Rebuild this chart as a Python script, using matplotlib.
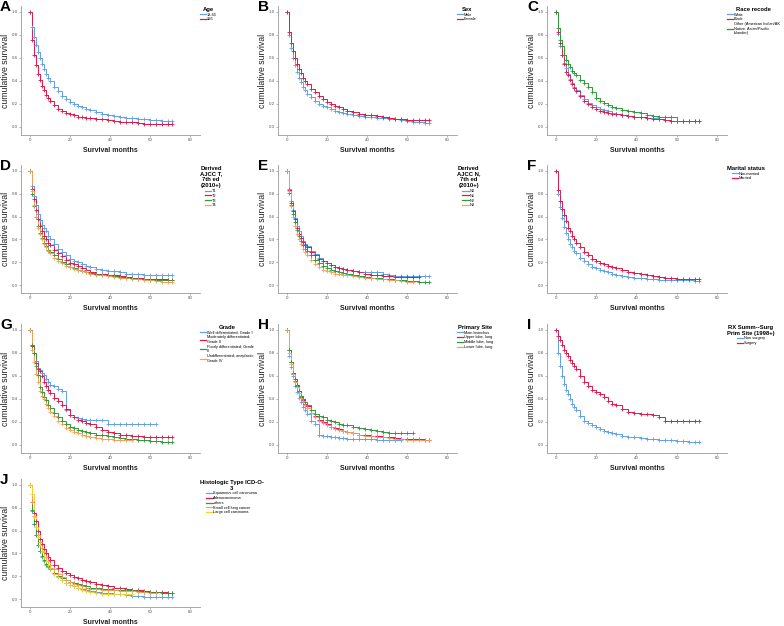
import matplotlib

matplotlib.use("Agg")
import matplotlib.pyplot as plt
from matplotlib.lines import Line2D

# --- data: Kaplan-Meier estimates (months -> survival) ---
MONTHS = [0, 1, 2, 3, 4, 5, 6, 7, 8, 9, 10,
          12, 14, 16, 18, 20, 22, 24, 26, 28, 30,
          33, 36, 39, 42, 45, 48, 51, 54, 57, 60, 63, 66, 69, 71]

# A  Age
AGE_LABELS = ["18-65", "≥66"]
AGE_18_65 = [1.00, 0.87, 0.78, 0.71, 0.65, 0.60, 0.55, 0.50, 0.46, 0.43, 0.40,
             0.35, 0.31, 0.27, 0.24, 0.22, 0.20, 0.185, 0.17, 0.155, 0.145,
             0.13, 0.115, 0.105, 0.095, 0.09, 0.08, 0.075, 0.07, 0.065, 0.06, 0.058, 0.055, 0.055, 0.055]
AGE_66 = [1.00, 0.76, 0.63, 0.54, 0.46, 0.41, 0.36, 0.32, 0.28, 0.25, 0.23,
          0.19, 0.16, 0.14, 0.12, 0.11, 0.10, 0.09, 0.085, 0.08, 0.075,
          0.07, 0.065, 0.06, 0.05, 0.045, 0.04, 0.04, 0.035, 0.03, 0.03, 0.03, 0.03, 0.03, 0.03]

# B  Sex
SEX_LABELS = ["Male", "Female"]
SEX_MALE = [1.00, 0.80, 0.69, 0.60, 0.54, 0.48, 0.43, 0.39, 0.35, 0.32, 0.29,
            0.26, 0.23, 0.20, 0.185, 0.17, 0.155, 0.14, 0.13, 0.12, 0.115,
            0.105, 0.095, 0.09, 0.085, 0.08, 0.075, 0.07, 0.065, 0.06, 0.05, 0.045, 0.04, 0.035, 0.035]
SEX_FEMALE = [1.00, 0.83, 0.73, 0.66, 0.60, 0.55, 0.50, 0.47, 0.43, 0.40, 0.37,
              0.33, 0.30, 0.27, 0.245, 0.22, 0.20, 0.185, 0.17, 0.155, 0.14,
              0.13, 0.115, 0.105, 0.10, 0.095, 0.09, 0.08, 0.07, 0.065, 0.06, 0.06, 0.06, 0.06, 0.06]

# C  Race recode
RACE_LABELS = ["White", "Black", "Other (American Indian/AK\nNative, Asian/Pacific\nIslander)"]
RACE_WHITE = [1.00, 0.81, 0.70, 0.63, 0.56, 0.51, 0.46, 0.42, 0.38, 0.35, 0.32,
              0.28, 0.24, 0.21, 0.19, 0.17, 0.16, 0.145, 0.135, 0.125, 0.115,
              0.105, 0.095, 0.09, 0.085, 0.08, 0.075, 0.065, 0.06, 0.055, 0.055, 0.05, 0.05, 0.05, 0.05]
RACE_BLACK = [1.00, 0.83, 0.73, 0.63, 0.55, 0.48, 0.45, 0.41, 0.37, 0.34, 0.31,
              0.27, 0.23, 0.20, 0.175, 0.155, 0.14, 0.13, 0.12, 0.115, 0.11,
              0.10, 0.095, 0.09, 0.085, 0.08, 0.07, 0.065, 0.06, 0.055, 0.05, 0.05, 0.05, 0.05, 0.05]
RACE_OTHER = [1.00, 0.86, 0.76, 0.70, 0.63, 0.58, 0.55, 0.52, 0.49, 0.47, 0.45,
              0.41, 0.38, 0.35, 0.30, 0.25, 0.23, 0.21, 0.19, 0.175, 0.165,
              0.15, 0.14, 0.13, 0.12, 0.107, 0.095, 0.085, 0.085, 0.085, 0.05]

# D  Derived AJCC T
T_LABELS = ["T1", "T2", "T3", "T4"]
T_T1 = [1.00, 0.87, 0.78, 0.70, 0.62, 0.57, 0.53, 0.50, 0.47, 0.43, 0.40,
        0.36, 0.32, 0.29, 0.26, 0.23, 0.21, 0.20, 0.18, 0.17, 0.16,
        0.14, 0.13, 0.12, 0.12, 0.11, 0.10, 0.10, 0.095, 0.09, 0.09, 0.09, 0.09, 0.09, 0.09]
T_T2 = [1.00, 0.84, 0.75, 0.66, 0.58, 0.52, 0.47, 0.43, 0.40, 0.37, 0.35,
        0.31, 0.28, 0.25, 0.22, 0.195, 0.18, 0.165, 0.15, 0.13, 0.115,
        0.10, 0.095, 0.09, 0.085, 0.075, 0.07, 0.065, 0.06, 0.055, 0.055, 0.05, 0.05, 0.045, 0.045]
T_T3 = [1.00, 0.80, 0.69, 0.60, 0.52, 0.46, 0.41, 0.37, 0.34, 0.31, 0.29,
        0.26, 0.23, 0.20, 0.18, 0.16, 0.145, 0.135, 0.125, 0.115, 0.105,
        0.095, 0.09, 0.085, 0.08, 0.07, 0.065, 0.06, 0.055, 0.05, 0.045, 0.045, 0.04, 0.04, 0.04]
T_T4 = [1.00, 0.82, 0.70, 0.60, 0.50, 0.45, 0.40, 0.36, 0.33, 0.30, 0.28,
        0.24, 0.21, 0.19, 0.17, 0.155, 0.14, 0.13, 0.12, 0.11, 0.10,
        0.09, 0.085, 0.075, 0.07, 0.065, 0.06, 0.055, 0.05, 0.045, 0.04, 0.035, 0.03, 0.025, 0.025]

# E  Derived AJCC N
N_LABELS = ["N0", "N1", "N2", "N3"]
N_N0 = [1.00, 0.84, 0.74, 0.66, 0.59, 0.52, 0.47, 0.43, 0.39, 0.36, 0.34,
        0.30, 0.27, 0.24, 0.21, 0.19, 0.175, 0.16, 0.15, 0.14, 0.13,
        0.12, 0.115, 0.115, 0.115, 0.11, 0.10, 0.09, 0.08, 0.075, 0.075, 0.075, 0.075, 0.075, 0.075]
N_N1 = [1.00, 0.83, 0.72, 0.65, 0.58, 0.50, 0.45, 0.41, 0.38, 0.35, 0.33,
        0.29, 0.26, 0.23, 0.21, 0.19, 0.175, 0.16, 0.15, 0.14, 0.13,
        0.12, 0.11, 0.10, 0.09, 0.085, 0.08, 0.075, 0.07, 0.07, 0.07, 0.07, 0.07]
N_N2 = [1.00, 0.81, 0.70, 0.62, 0.55, 0.48, 0.43, 0.39, 0.35, 0.32, 0.30,
        0.26, 0.22, 0.19, 0.17, 0.15, 0.135, 0.125, 0.115, 0.105, 0.095,
        0.085, 0.075, 0.07, 0.065, 0.06, 0.055, 0.05, 0.045, 0.04, 0.035, 0.035, 0.03, 0.03, 0.03]
N_N3 = [1.00, 0.82, 0.69, 0.60, 0.52, 0.45, 0.40, 0.36, 0.32, 0.29, 0.26,
        0.22, 0.18, 0.155, 0.135, 0.12, 0.11, 0.10, 0.095, 0.09, 0.085,
        0.075, 0.07, 0.065, 0.06, 0.055, 0.05, 0.045, 0.04, 0.035, 0.03, 0.03]

# F  Marital status
MARITAL_LABELS = ["Non-married", "Married"]
MARITAL_NON = [1.00, 0.80, 0.68, 0.59, 0.51, 0.46, 0.40, 0.36, 0.33, 0.30, 0.28,
               0.24, 0.21, 0.18, 0.16, 0.145, 0.13, 0.12, 0.11, 0.10, 0.09,
               0.08, 0.07, 0.065, 0.06, 0.055, 0.05, 0.045, 0.045, 0.04, 0.04, 0.04, 0.04, 0.035, 0.035]
MARITAL_MARRIED = [1.00, 0.83, 0.74, 0.67, 0.61, 0.56, 0.50, 0.47, 0.43, 0.40, 0.37,
                   0.33, 0.29, 0.26, 0.23, 0.21, 0.195, 0.18, 0.165, 0.155, 0.145,
                   0.13, 0.115, 0.105, 0.095, 0.085, 0.08, 0.07, 0.065, 0.06, 0.055, 0.05, 0.05, 0.05, 0.05]

# G  Grade
GRADE_LABELS = ["Well differentiated; Grade I", "Moderately differentiated;\nGrade II",
                "Poorly differentiated; Grade\nIII", "Undifferentiated; anaplastic;\nGrade IV"]
GRADE_I = [1.00, 0.87, 0.80, 0.73, 0.67, 0.65, 0.63, 0.61, 0.57, 0.55, 0.52,
           0.51, 0.49, 0.47, 0.30, 0.26, 0.24, 0.235, 0.23, 0.22, 0.22,
           0.22, 0.22, 0.18, 0.18, 0.18, 0.18, 0.18, 0.18, 0.18, 0.18, 0.18]
GRADE_II = [1.00, 0.86, 0.80, 0.71, 0.66, 0.64, 0.60, 0.55, 0.51, 0.48, 0.45,
            0.41, 0.38, 0.35, 0.31, 0.26, 0.24, 0.22, 0.21, 0.19, 0.18,
            0.16, 0.13, 0.11, 0.10, 0.09, 0.085, 0.08, 0.075, 0.07, 0.065, 0.065, 0.065, 0.065, 0.065]
GRADE_III = [1.00, 0.87, 0.80, 0.69, 0.61, 0.50, 0.46, 0.42, 0.39, 0.35, 0.32,
             0.28, 0.24, 0.21, 0.18, 0.16, 0.145, 0.13, 0.12, 0.11, 0.10,
             0.09, 0.085, 0.08, 0.07, 0.06, 0.055, 0.05, 0.045, 0.04, 0.035, 0.035, 0.03, 0.03, 0.03]
GRADE_IV = [1.00, 0.83, 0.72, 0.62, 0.55, 0.47, 0.43, 0.40, 0.36, 0.32, 0.29,
            0.25, 0.21, 0.18, 0.15, 0.13, 0.115, 0.10, 0.09, 0.08, 0.07,
            0.06, 0.055, 0.05, 0.045, 0.04, 0.04, 0.04]

# H  Primary site
SITE_LABELS = ["Main bronchus", "Upper lobe, lung", "Middle lobe, lung", "Lower lobe, lung"]
SITE_MAIN = [1.00, 0.77, 0.68, 0.60, 0.51, 0.46, 0.41, 0.37, 0.33, 0.30, 0.27,
             0.21, 0.18, 0.09, 0.08, 0.075, 0.07, 0.065, 0.06, 0.06, 0.055,
             0.055, 0.05, 0.05, 0.05, 0.045, 0.045, 0.045, 0.045, 0.045]
SITE_UPPER = [1.00, 0.83, 0.72, 0.63, 0.57, 0.52, 0.47, 0.42, 0.39, 0.36, 0.34,
              0.28, 0.25, 0.22, 0.20, 0.18, 0.16, 0.15, 0.135, 0.12, 0.11,
              0.10, 0.09, 0.085, 0.08, 0.075, 0.07, 0.065, 0.06, 0.055, 0.055, 0.05, 0.05, 0.045, 0.045]
SITE_MIDDLE = [1.00, 0.83, 0.72, 0.62, 0.56, 0.51, 0.47, 0.43, 0.40, 0.37, 0.35,
               0.30, 0.27, 0.25, 0.24, 0.22, 0.21, 0.20, 0.18, 0.175, 0.17,
               0.16, 0.15, 0.14, 0.13, 0.12, 0.11, 0.10, 0.10, 0.10, 0.10, 0.10]
SITE_LOWER = [1.00, 0.80, 0.70, 0.62, 0.55, 0.50, 0.45, 0.41, 0.38, 0.35, 0.32,
              0.28, 0.24, 0.21, 0.19, 0.17, 0.155, 0.14, 0.13, 0.12, 0.11,
              0.10, 0.09, 0.08, 0.075, 0.07, 0.065, 0.06, 0.055, 0.05, 0.045, 0.045, 0.04, 0.04, 0.04]

# I  Surgery
SURG_LABELS = ["Non surgery", "Surgery"]
SURG_NO = [1.00, 0.80, 0.69, 0.60, 0.53, 0.48, 0.44, 0.40, 0.36, 0.33, 0.30,
           0.25, 0.21, 0.19, 0.17, 0.155, 0.14, 0.125, 0.115, 0.105, 0.095,
           0.08, 0.07, 0.065, 0.06, 0.055, 0.05, 0.045, 0.04, 0.04, 0.035, 0.035, 0.03, 0.03, 0.03]
SURG_YES = [1.00, 0.95, 0.91, 0.87, 0.83, 0.80, 0.77, 0.74, 0.71, 0.69, 0.66,
            0.60, 0.55, 0.51, 0.48, 0.46, 0.44, 0.42, 0.38, 0.36, 0.35,
            0.31, 0.29, 0.28, 0.27, 0.27, 0.26, 0.245, 0.21, 0.21, 0.21, 0.21, 0.21, 0.21, 0.21]

# J  Histologic type
HIST_LABELS = ["Squamous cell carcinoma", "Adenocarcinoma", "others",
               "Small cell lung cancer", "Large cell carcinoma"]
HIST_SQUAMOUS = [1.00, 0.77, 0.66, 0.56, 0.47, 0.42, 0.37, 0.33, 0.30, 0.28, 0.26,
                 0.22, 0.19, 0.165, 0.14, 0.125, 0.11, 0.10, 0.09, 0.08, 0.07,
                 0.06, 0.055, 0.05, 0.045, 0.04, 0.035, 0.03, 0.025, 0.02, 0.02, 0.02, 0.02, 0.02, 0.02]
HIST_ADENO = [1.00, 0.85, 0.75, 0.68, 0.60, 0.53, 0.48, 0.44, 0.40, 0.37, 0.34,
              0.30, 0.27, 0.245, 0.225, 0.21, 0.195, 0.18, 0.17, 0.16, 0.15,
              0.135, 0.12, 0.11, 0.10, 0.095, 0.09, 0.08, 0.075, 0.07, 0.065, 0.06, 0.06, 0.055, 0.055]
HIST_OTHERS = [1.00, 0.78, 0.66, 0.56, 0.47, 0.42, 0.38, 0.34, 0.31, 0.29, 0.27,
               0.23, 0.20, 0.18, 0.165, 0.15, 0.14, 0.13, 0.12, 0.11, 0.10,
               0.095, 0.09, 0.085, 0.08, 0.08, 0.075, 0.075, 0.07, 0.065, 0.06, 0.06, 0.055, 0.055, 0.055]
HIST_SMALL = [1.00, 0.85, 0.73, 0.63, 0.56, 0.50, 0.45, 0.41, 0.37, 0.33, 0.30,
              0.26, 0.22, 0.19, 0.165, 0.15, 0.135, 0.12, 0.11, 0.10, 0.09,
              0.085, 0.08, 0.075, 0.075, 0.07, 0.07, 0.07, 0.065, 0.06, 0.055, 0.055]
HIST_LARGE = [1.00, 0.92, 0.72, 0.63, 0.54, 0.47, 0.42, 0.37, 0.33, 0.30, 0.27,
              0.22, 0.19, 0.165, 0.14, 0.125, 0.11, 0.095, 0.08, 0.07, 0.06,
              0.05, 0.045, 0.045, 0.045, 0.045, 0.045, 0.045]

# --- style ---
BLUE = "#62A0EA"
RED = "#E2184A"
GREEN = "#2E9B3A"
ORANGE = "#F7A05E"
YELLOW = "#F2D234"
PALETTE = [BLUE, RED, GREEN, ORANGE, YELLOW]
AXIS = "#9A9A9A"

plt.rcParams.update({
    "font.family": ["Liberation Sans", "DejaVu Sans"],
    "axes.edgecolor": AXIS,
    "axes.linewidth": 0.6,
    "xtick.color": AXIS,
    "ytick.color": AXIS,
})

PANELS = [
    ("A", "Age", AGE_LABELS, [AGE_18_65, AGE_66]),
    ("B", "Sex", SEX_LABELS, [SEX_MALE, SEX_FEMALE]),
    ("C", "Race recode", RACE_LABELS, [RACE_WHITE, RACE_BLACK, RACE_OTHER]),
    ("D", "Derived\nAJCC T,\n7th ed\n(2010+)", T_LABELS, [T_T1, T_T2, T_T3, T_T4]),
    ("E", "Derived\nAJCC N,\n7th ed\n(2010+)", N_LABELS, [N_N0, N_N1, N_N2, N_N3]),
    ("F", "Marital status", MARITAL_LABELS, [MARITAL_NON, MARITAL_MARRIED]),
    ("G", "Grade", GRADE_LABELS, [GRADE_I, GRADE_II, GRADE_III, GRADE_IV]),
    ("H", "Primary Site", SITE_LABELS, [SITE_MAIN, SITE_UPPER, SITE_MIDDLE, SITE_LOWER]),
    ("I", "RX Summ--Surg\nPrim Site (1998+)", SURG_LABELS, [SURG_NO, SURG_YES]),
    ("J", "Histologic Type ICD-O-\n3", HIST_LABELS,
     [HIST_SQUAMOUS, HIST_ADENO, HIST_OTHERS, HIST_SMALL, HIST_LARGE]),
]

W, H = 784, 626
fig = plt.figure(figsize=(W / 100, H / 100), dpi=100)
fig.patch.set_facecolor("white")

COLS = [(21, 200), (278, 457), (547, 727)]   # axes left/right in px
ROWS = [(6, 135), (165, 293), (324, 453), (479, 607)]   # axes top/bottom in px
LETTER_X = [0, 258, 527]

for k, (letter, title, labels, curves) in enumerate(PANELS):
    r, c = divmod(k, 3)
    (x0, x1), (y0, y1) = COLS[c], ROWS[r]
    ax = fig.add_axes([x0 / W, 1 - y1 / H, (x1 - x0) / W, (y1 - y0) / H])

    handles = []
    for surv, color in zip(curves, PALETTE):
        t = MONTHS[:len(surv)]
        ax.plot(t, surv, drawstyle="steps-post", color=color, lw=0.7, zorder=3)
        ax.plot(t, surv, ls="none", marker="+", ms=2.6, mew=0.6, color=color, zorder=4)
        handles.append(Line2D([], [], color=color, lw=0.9))

    ax.set_xlim(-4.5, 85)
    ax.set_ylim(-0.07, 1.052)
    ax.set_xticks([0, 20, 40, 60, 80])
    ax.set_yticks([0.0, 0.2, 0.4, 0.6, 0.8, 1.0])
    ax.set_yticklabels([f"{v:.1f}" for v in ax.get_yticks()])
    ax.tick_params(labelsize=3.2, length=1.5, width=0.5, pad=1.0, labelcolor="#555555")
    for side in ("top", "right"):
        ax.spines[side].set_visible(False)

    ax.set_xlabel("Survival months", fontsize=5, fontweight="bold", labelpad=3.0, color="#222222")
    ax.set_ylabel("cumulative survival", fontsize=6.3, labelpad=1.0, color="#222222")

    leg = ax.legend(handles, labels, title=title, loc="upper left", bbox_to_anchor=(0.995, 1.0),
                    frameon=False, fontsize=2.8, handlelength=1.6, handletextpad=0.25,
                    labelspacing=0.2, borderaxespad=0.0, borderpad=0.2,
                    title_fontproperties={"weight": "bold", "size": 4.2})
    leg.get_title().set_multialignment("center")

    fig.text(LETTER_X[c] / W, 1 - (y0 - 6) / H, letter, fontsize=11, fontweight="bold",
             ha="left", va="top", color="black")

fig.savefig("out.png", dpi=100, facecolor="white")
